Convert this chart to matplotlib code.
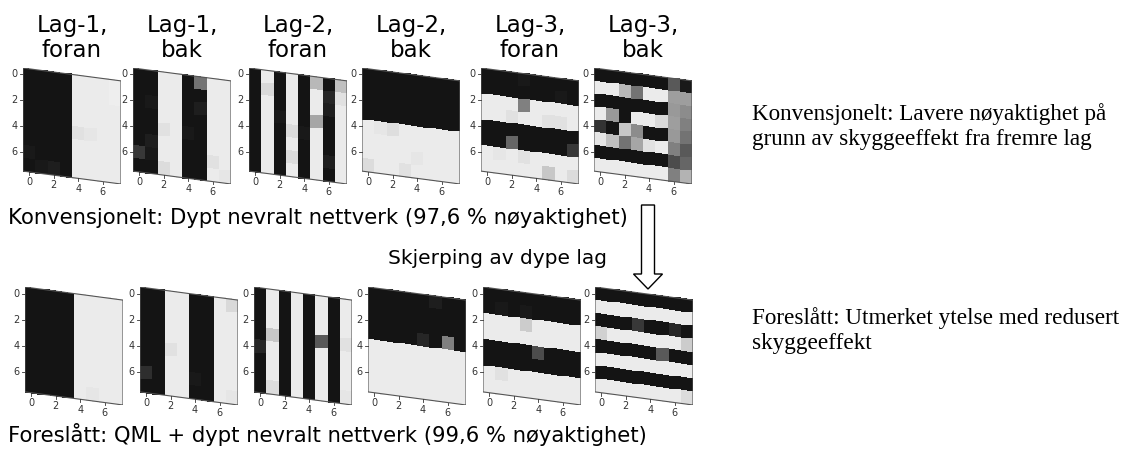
import matplotlib.pyplot as plt
import matplotlib.patches as mpatches
import numpy as np

# panel titles (top row only)
titles = ["Lag-1,\nforan", "Lag-1,\nbak", "Lag-2,\nforan",
          "Lag-2,\nbak", "Lag-3,\nforan", "Lag-3,\nbak"]

# conventional DNN, 8x8 weight maps (0 = black, 1 = white)
conv_l1_front = [
    [.08, .08, .08, .08, .92, .92, .92, .93],
    [.08, .08, .08, .08, .92, .92, .92, .93],
    [.08, .08, .08, .08, .92, .92, .92, .92],
    [.08, .08, .08, .08, .92, .92, .92, .92],
    [.08, .08, .08, .08, .88, .90, .92, .92],
    [.08, .08, .08, .08, .92, .92, .92, .92],
    [.10, .08, .08, .08, .92, .92, .92, .92],
    [.08, .10, .12, .08, .92, .92, .92, .92],
]
conv_l1_back = [
    [.08, .08, .92, .92, .08, .45, .92, .92],
    [.08, .08, .92, .92, .08, .08, .92, .92],
    [.08, .10, .92, .92, .08, .12, .92, .92],
    [.08, .08, .92, .92, .08, .08, .92, .92],
    [.08, .08, .88, .92, .10, .08, .92, .92],
    [.08, .12, .92, .92, .08, .08, .92, .92],
    [.22, .10, .92, .92, .08, .08, .88, .92],
    [.08, .08, .86, .92, .08, .08, .92, .90],
]
conv_l2_front = [
    [.08, .92, .08, .92, .08, .72, .08, .75],
    [.08, .85, .08, .92, .08, .92, .15, .88],
    [.08, .92, .08, .92, .08, .92, .12, .92],
    [.08, .92, .10, .92, .08, .65, .08, .92],
    [.08, .92, .08, .86, .10, .92, .08, .92],
    [.08, .92, .08, .92, .08, .92, .08, .92],
    [.08, .92, .08, .86, .08, .92, .12, .92],
    [.08, .92, .08, .92, .08, .92, .08, .92],
]
conv_l2_back = [
    [.08, .08, .08, .08, .08, .08, .08, .08],
    [.08, .08, .08, .08, .08, .08, .08, .08],
    [.08, .08, .08, .08, .08, .08, .08, .08],
    [.08, .08, .08, .08, .08, .08, .08, .08],
    [.92, .90, .87, .92, .92, .92, .92, .92],
    [.92, .92, .92, .92, .92, .92, .92, .92],
    [.92, .92, .92, .92, .90, .92, .92, .92],
    [.86, .92, .92, .88, .92, .92, .92, .92],
]
conv_l3_front = [
    [.08, .08, .08, .10, .08, .08, .08, .08],
    [.08, .08, .08, .08, .08, .08, .10, .08],
    [.92, .92, .92, .50, .92, .92, .92, .92],
    [.92, .92, .88, .92, .92, .88, .88, .92],
    [.08, .08, .08, .08, .08, .08, .08, .08],
    [.08, .08, .40, .08, .08, .08, .08, .22],
    [.92, .90, .92, .88, .92, .92, .92, .92],
    [.92, .92, .92, .92, .92, .78, .92, .86],
]
conv_l3_back = [
    [.08, .08, .08, .08, .08, .08, .35, .10],
    [.92, .92, .72, .45, .92, .92, .62, .62],
    [.08, .08, .08, .08, .08, .08, .60, .55],
    [.92, .60, .08, .92, .92, .85, .62, .50],
    [.20, .08, .78, .55, .08, .08, .60, .45],
    [.90, .75, .45, .65, .88, .92, .50, .35],
    [.08, .08, .08, .08, .08, .08, .30, .40],
    [.92, .92, .92, .92, .92, .92, .50, .70],
]

# proposed QML + DNN
qml_l1_front = [
    [.08, .08, .08, .08, .92, .92, .92, .92],
    [.08, .08, .08, .08, .92, .92, .92, .92],
    [.08, .08, .08, .08, .92, .92, .92, .92],
    [.08, .08, .08, .08, .92, .92, .92, .92],
    [.08, .08, .08, .08, .92, .92, .92, .92],
    [.08, .08, .08, .08, .92, .92, .92, .92],
    [.08, .08, .08, .08, .92, .92, .92, .92],
    [.08, .08, .08, .08, .92, .90, .92, .92],
]
qml_l1_back = [
    [.08, .08, .92, .92, .08, .08, .92, .85],
    [.08, .08, .92, .92, .08, .08, .92, .92],
    [.08, .08, .92, .92, .08, .08, .92, .92],
    [.08, .08, .92, .92, .08, .08, .92, .92],
    [.08, .08, .88, .92, .08, .08, .92, .92],
    [.08, .08, .92, .92, .08, .08, .92, .92],
    [.18, .08, .92, .92, .10, .08, .92, .92],
    [.08, .08, .92, .92, .08, .08, .92, .90],
]
qml_l2_front = [
    [.08, .92, .08, .92, .08, .92, .08, .92],
    [.08, .92, .08, .92, .08, .92, .08, .92],
    [.08, .92, .08, .92, .08, .92, .08, .92],
    [.08, .78, .08, .92, .08, .35, .08, .88],
    [.15, .92, .08, .92, .08, .92, .08, .92],
    [.08, .92, .08, .92, .08, .92, .08, .92],
    [.08, .92, .08, .92, .08, .92, .08, .92],
    [.08, .86, .08, .92, .08, .92, .08, .90],
]
qml_l2_back = [
    [.08, .08, .08, .08, .08, .12, .08, .08],
    [.08, .08, .08, .08, .08, .08, .08, .08],
    [.08, .08, .08, .08, .08, .08, .08, .08],
    [.08, .08, .08, .08, .15, .08, .50, .08],
    [.92, .92, .92, .92, .92, .92, .92, .92],
    [.92, .92, .92, .92, .92, .92, .92, .92],
    [.92, .92, .92, .92, .92, .92, .92, .92],
    [.92, .92, .92, .92, .92, .92, .92, .92],
]
qml_l3_front = [
    [.08, .08, .08, .08, .08, .08, .08, .08],
    [.08, .10, .08, .10, .08, .08, .08, .08],
    [.92, .92, .92, .80, .92, .92, .92, .92],
    [.92, .92, .92, .92, .92, .92, .92, .92],
    [.08, .08, .08, .08, .30, .08, .08, .08],
    [.08, .08, .08, .08, .08, .08, .08, .08],
    [.92, .88, .92, .92, .92, .92, .92, .92],
    [.92, .92, .92, .92, .92, .92, .92, .92],
]
qml_l3_back = [
    [.08, .08, .08, .08, .08, .08, .08, .08],
    [.92, .92, .92, .92, .92, .92, .92, .92],
    [.08, .08, .08, .22, .08, .08, .15, .08],
    [.82, .92, .92, .92, .92, .92, .92, .80],
    [.08, .08, .08, .08, .08, .35, .08, .08],
    [.92, .92, .92, .92, .92, .92, .92, .92],
    [.08, .08, .08, .08, .08, .08, .08, .08],
    [.92, .92, .92, .92, .92, .92, .92, .86],
]

conv_maps = [conv_l1_front, conv_l1_back, conv_l2_front,
             conv_l2_back, conv_l3_front, conv_l3_back]
qml_maps = [qml_l1_front, qml_l1_back, qml_l2_front,
            qml_l2_back, qml_l3_front, qml_l3_back]

caption_conv = "Konvensjonelt: Dypt nevralt nettverk (97,6 % nøyaktighet)"
caption_qml = "Foreslått: QML + dypt nevralt nettverk (99,6 % nøyaktighet)"
arrow_label = "Skjerping av dype lag"
note_conv = "Konvensjonelt: Lavere nøyaktighet på\ngrunn av skyggeeffekt fra fremre lag"
note_qml = "Foreslått: Utmerket ytelse med redusert\nskyggeeffekt"
ticks = [0, 2, 4, 6]

W, H = 1136, 450
SHEAR = 0.125  # the maps are drawn slightly tilted, like a screenshot in perspective
TICK_COLOR = "#333333"

fig = plt.figure(figsize=(W / 100, H / 100), dpi=100)

# overlay in pixel units for the free text and the arrow
ov = fig.add_axes([0, 0, 1, 1])
ov.set_xlim(0, W)
ov.set_ylim(H, 0)
ov.axis("off")


def draw_map(ax, grid):
    grid = np.array(grid)
    n = grid.shape[0]
    edges = np.arange(n + 1) - 0.5
    X, Y = np.meshgrid(edges, edges)
    Y = Y + SHEAR * (X + 0.5)
    ax.pcolormesh(X, Y, grid, cmap="gray", vmin=0, vmax=1, shading="flat")
    lo, hi = edges[0], edges[-1]
    corners = [(lo, lo), (hi, lo + SHEAR * n), (hi, hi + SHEAR * n), (lo, hi)]
    ax.add_patch(mpatches.Polygon(corners, closed=True, fill=False,
                                  edgecolor="#555555", lw=0.8))
    for t in ticks:
        ax.plot([lo - 0.22, lo], [t, t], color=TICK_COLOR, lw=0.6, clip_on=False)
        ax.text(lo - 0.45, t, str(t), ha="right", va="center", fontsize=7,
                color=TICK_COLOR, clip_on=False)
        yb = hi + SHEAR * (t + 0.5)
        ax.plot([t, t], [yb, yb + 0.22], color=TICK_COLOR, lw=0.6, clip_on=False)
        ax.text(t, yb + 0.4, str(t), ha="center", va="top", fontsize=7,
                color=TICK_COLOR, clip_on=False)
    ax.set_xlim(lo, hi)
    ax.set_ylim(hi + SHEAR * n, lo)
    ax.axis("off")


top_left = [23, 133, 249, 362, 481, 594]
bot_left = [25, 140, 254, 368, 483, 595]
pw = 98

for i, grid in enumerate(conv_maps):
    ax = fig.add_axes([top_left[i] / W, 1 - 184 / H, pw / W, 116 / H])
    draw_map(ax, grid)
    ov.text(top_left[i] + pw / 2, 62, titles[i], ha="center", va="bottom",
            fontsize=16.5, linespacing=1.1)

for i, grid in enumerate(qml_maps):
    ax = fig.add_axes([bot_left[i] / W, 1 - 405 / H, pw / W, 118 / H])
    draw_map(ax, grid)

ov.text(8, 218, caption_conv, ha="left", va="center", fontsize=15.2)
ov.text(607, 258, arrow_label, ha="right", va="center", fontsize=14.5)
ov.text(8, 435, caption_qml, ha="left", va="center", fontsize=15.2)

ov.add_patch(mpatches.FancyArrow(648, 205, 0, 84, width=13, head_width=29,
                                 head_length=15, length_includes_head=True,
                                 facecolor="white", edgecolor="black", lw=1))

ov.text(752, 127, note_conv, ha="left", va="center", fontsize=16.7,
        family="Liberation Serif", linespacing=1.25)
ov.text(752, 331, note_qml, ha="left", va="center", fontsize=16.7,
        family="Liberation Serif", linespacing=1.25)

fig.savefig("out.png", dpi=100)
